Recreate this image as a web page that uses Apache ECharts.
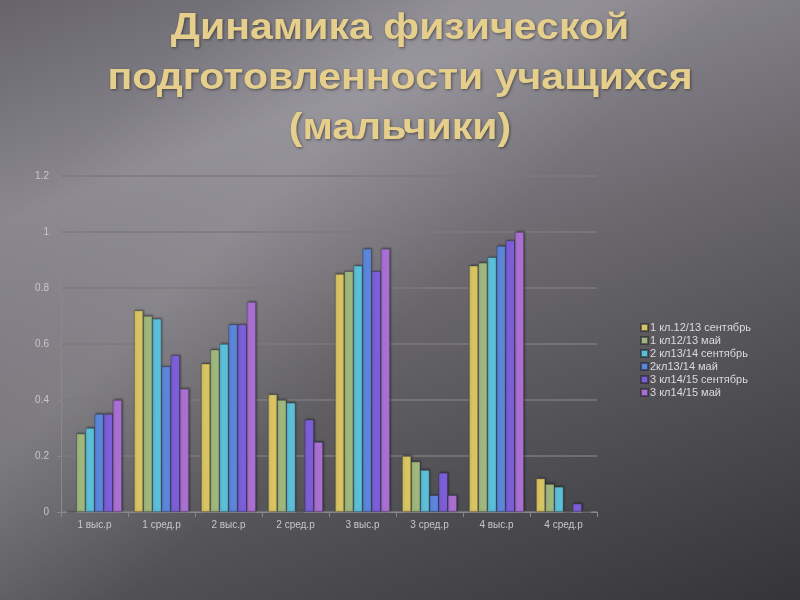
<!DOCTYPE html>
<html><head><meta charset="utf-8">
<script src="https://cdn.jsdelivr.net/npm/echarts@6/dist/echarts.min.js"></script>
<style>
html,body{margin:0;padding:0;}
#c{width:800px;height:600px;background:
linear-gradient(135deg, rgba(255,255,255,0) 16%, rgba(255,255,255,0.13) 33%, rgba(255,255,255,0) 52%),
linear-gradient(160deg,#66646a 0%,#8a878f 25%,#6a686d 50%,#4e4d51 75%,#353437 100%);}
</style></head>
<body><div id="c"></div>
<script>
const titleText = "Динамика физической\nподготовленности учащихся\n(мальчики)";
const categories = ["1 выс.р","1 сред.р","2 выс.р","2 сред.р","3 выс.р","3 сред.р","4 выс.р","4 сред.р"];
const seriesNames = ["1 кл.12/13 сентябрь","1 кл12/13 май","2 кл13/14 сентябрь","2кл13/14 май","3 кл14/15 сентябрь","3 кл14/15 май"];
const s1 = [0, 0.72, 0.53, 0.42, 0.85, 0.20, 0.88, 0.12];
const s2 = [0.28, 0.70, 0.58, 0.40, 0.86, 0.18, 0.89, 0.10];
const s3 = [0.30, 0.69, 0.60, 0.39, 0.88, 0.15, 0.91, 0.09];
const s4 = [0.35, 0.52, 0.67, 0, 0.94, 0.06, 0.95, 0];
const s5 = [0.35, 0.56, 0.67, 0.33, 0.86, 0.14, 0.97, 0.03];
const s6 = [0.40, 0.44, 0.75, 0.25, 0.94, 0.06, 1.00, 0];
const yTicks = [0, 0.2, 0.4, 0.6, 0.8, 1, 1.2];
const colors = ["#d8c462","#9fb77c","#5cbfd8","#5b86da","#7c5fd8","#a970d2"];
const allData = [s1,s2,s3,s4,s5,s6];

const chart = echarts.init(document.getElementById('c'));
chart.setOption({
  animation:false,
  graphic:[{type:'text',x:400,y:4,scaleX:1.14,z:10,
    style:{text:titleText,x:0,y:0,textAlign:'center',textVerticalAlign:'top',
      font:'bold 36px "Liberation Sans"',fill:'#e6cf8c',lineHeight:50,
      textShadowColor:'rgba(0,0,0,0.45)',textShadowBlur:3,textShadowOffsetX:1,textShadowOffsetY:1}}],
  grid:{left:61,right:203,top:176,bottom:88},
  legend:{orient:'vertical',left:635,top:317,itemWidth:7,itemHeight:7,itemGap:2,icon:'rect',
    textStyle:{color:'#dcdade',fontSize:11,fontFamily:'Liberation Sans',padding:[0,0,0,-3]},data:seriesNames},
  xAxis:{type:'category',data:categories,
    axisLine:{lineStyle:{color:'#8a888c'}},axisTick:{show:true,lineStyle:{color:'#8a888c'}},
    axisLabel:{color:'#c8c6ca',fontSize:10,fontFamily:'Liberation Sans',margin:8}},
  yAxis:{type:'value',min:0,max:1.2,interval:0.2,
    axisLine:{show:true,lineStyle:{color:'#8a888c'}},axisTick:{show:true,length:4,lineStyle:{color:'#8a888c'}},
    splitLine:{lineStyle:{color:'#7c7a7e',width:1.5}},
    axisLabel:{color:'#c8c6ca',fontSize:10,fontFamily:'Liberation Sans',margin:12,
      formatter:v=>{const t=yTicks.find(x=>Math.abs(x-v)<1e-6);return t===undefined?'':String(t);}}},
  series: allData.map((d,i)=>({name:seriesNames[i],type:'bar',data:d,barGap:'0%',barCategoryGap:'18%',
    itemStyle:{color:colors[i],borderColor:'rgba(40,40,50,0.6)',borderWidth:0.6,
      shadowColor:'rgba(0,0,0,0.35)',shadowBlur:2,shadowOffsetX:1,shadowOffsetY:-1}}))
});
</script></body></html>
